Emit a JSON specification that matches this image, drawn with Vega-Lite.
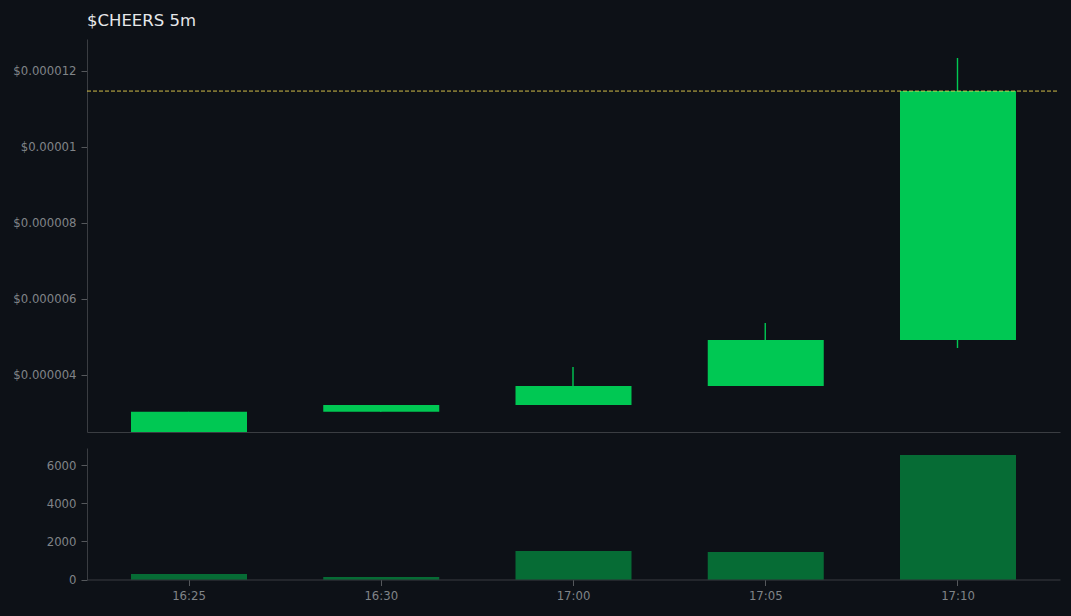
{
  "$schema": "https://vega.github.io/schema/vega-lite/v6.json",
  "background": "#0d1117",
  "padding": {"left": 0, "top": 13, "right": 11, "bottom": 14},
  "spacing": 15,
  "datasets": {
    "candles": [
      {"time": "16:25", "open": 0.0000025, "close": 0.00000303, "high": 0.00000303, "low": 0.0000025, "volume": 290},
      {"time": "16:30", "open": 0.00000303, "close": 0.00000321, "high": 0.00000321, "low": 0.00000303, "volume": 130},
      {"time": "17:00", "open": 0.00000321, "close": 0.00000371, "high": 0.00000421, "low": 0.00000321, "volume": 1500},
      {"time": "17:05", "open": 0.00000371, "close": 0.00000492, "high": 0.00000537, "low": 0.00000371, "volume": 1450},
      {"time": "17:10", "open": 0.00000492, "close": 0.00001147, "high": 0.00001234, "low": 0.00000471, "volume": 6550}
    ],
    "lastPrice": [{"price": 0.00001147}]
  },
  "config": {
    "view": {"stroke": null},
    "font": "DejaVu Sans",
    "axis": {
      "grid": false,
      "domainColor": "#3a3d42",
      "tickColor": "#55585c",
      "labelColor": "#808488",
      "labelFont": "DejaVu Sans",
      "labelFontSize": 11.7,
      "tickSize": 6,
      "labelPadding": 5,
      "title": null
    }
  },
  "vconcat": [
    {
      "width": 973,
      "height": 393,
      "title": {
        "text": "$CHEERS 5m",
        "anchor": "start",
        "frame": "group",
        "color": "#e6e8ea",
        "font": "DejaVu Sans",
        "fontSize": 16.5,
        "fontWeight": "normal",
        "offset": 9.5
      },
      "encoding": {
        "x": {
          "field": "time",
          "type": "ordinal",
          "sort": null,
          "scale": {"paddingInner": 0.3966, "paddingOuter": 0.2289},
          "axis": {"labels": false, "ticks": false, "domain": true}
        }
      },
      "layer": [
        {
          "data": {"name": "candles"},
          "mark": {"type": "rule", "color": "#00c853", "strokeWidth": 1.4, "xOffset": -0.5},
          "encoding": {
            "y": {
              "field": "low",
              "type": "quantitative",
              "scale": {"domain": [0.0000025, 0.00001284], "nice": false, "zero": false},
              "axis": {
                "values": [0.000004, 0.000006, 0.000008, 0.00001, 0.000012],
                "labelExpr": "'$' + format(datum.value, '.6~f')",
                "minExtent": 87,
                "maxExtent": 87
              }
            },
            "y2": {"field": "high"}
          }
        },
        {
          "data": {"name": "candles"},
          "mark": {"type": "bar", "color": "#00c853"},
          "encoding": {
            "y": {"field": "open", "type": "quantitative"},
            "y2": {"field": "close"}
          }
        },
        {
          "data": {"name": "lastPrice"},
          "mark": {"type": "rule", "color": "#e6d04e", "strokeWidth": 0.9, "strokeDash": [4, 2]},
          "encoding": {
            "x": {"value": 0},
            "x2": {"value": 972},
            "y": {"field": "price", "type": "quantitative"}
          }
        }
      ]
    },
    {
      "width": 973,
      "height": 131.5,
      "data": {"name": "candles"},
      "mark": {"type": "bar", "color": "#00c853", "opacity": 0.5},
      "encoding": {
        "x": {
          "field": "time",
          "type": "ordinal",
          "sort": null,
          "scale": {"paddingInner": 0.3966, "paddingOuter": 0.2289},
          "axis": {"labelAngle": 0, "labelPadding": 5}
        },
        "y": {
          "field": "volume",
          "type": "quantitative",
          "scale": {"domain": [0, 6920], "nice": false},
          "axis": {"values": [0, 2000, 4000, 6000], "format": "d", "minExtent": 87, "maxExtent": 87}
        }
      }
    }
  ]
}
